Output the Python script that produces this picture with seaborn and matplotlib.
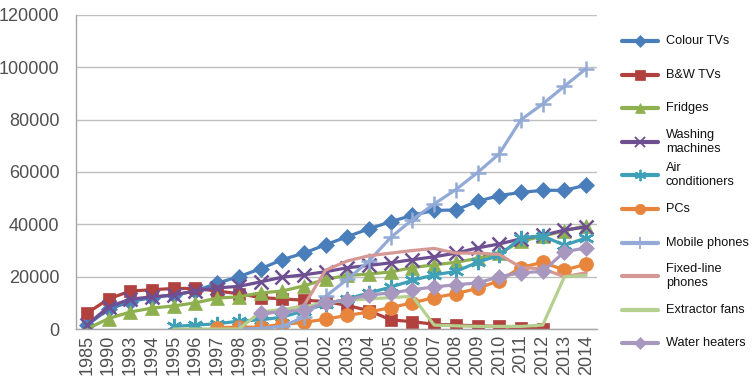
import matplotlib
matplotlib.use('Agg')
import matplotlib.pyplot as plt
from matplotlib.lines import Line2D
import seaborn as sns
import pandas as pd

years = ['1985', '1990', '1993', '1994', '1995', '1996', '1997', '1998', '1999', '2000',
         '2001', '2002', '2003', '2004', '2005', '2006', '2007', '2008', '2009', '2010',
         '2011', '2012', '2013', '2014']

colour_tvs = [1500, 7500, 10500, 12000, 13000, 14500, 17500, 20000, 23000, 26500, 29000, 32200,
              35300, 38300, 41000, 43500, 45300, 45500, 48800, 51000, 52200, 53000, 53000, 55000]
bw_tvs = [6000, 11500, 14500, 15000, 15500, 15500, 14500, 13500, 12000, 11500, 11000, 10500,
          9000, 7000, 3500, 2800, 1800, 1500, 1200, 1000, 300, 0, None, None]
fridges = [0, 4000, 6500, 8000, 8800, 10000, 11800, 12300, 13800, 14500, 16500, 19000,
           20500, 21000, 21800, 23500, 24500, 25500, 27000, 29000, 33500, 35500, 37500, 39500]
washing = [1500, 8500, 11400, 12300, 13000, 14600, 15700, 16300, 18000, 19800, 20700, 21900,
           23400, 24300, 25300, 26500, 27600, 29000, 31000, 32500, 34500, 35800, 37800, 39000]
aircon = [None, None, None, None, 1000, 1500, 2000, 3000, 3500, 4500, 7000, 9500,
          11500, 13800, 16000, 18600, 20700, 22000, 25500, 28200, 34800, 35600, 32000, 34800]
pcs = [None, None, None, None, None, None, 500, 700, 700, 1800, 2500, 3800,
       5200, 6500, 8200, 10000, 12000, 13500, 15500, 18500, 23500, 25500, 22500, 24800]
mobile = [None, None, None, None, None, None, None, 0, 200, 1000, 4500, 12500,
          19000, 26000, 35000, 41800, 47800, 53300, 59800, 67000, 80000, 86000, 92800, 99500]
fixed_line = [None, None, None, None, None, None, None, None, 5500, 7000, 9000, 22500,
              26000, 28000, 29000, 30000, 30800, 29000, 29000, 28500, 23500, 23000, 20000, 21500]
extractor = [None, None, None, None, 0, 0, 0, 0, 6500, 7500, 8500, 10000,
             11000, 11500, 12000, 12500, 1500, 1200, 1000, 1000, 1000, 1500, 20000, 20500]
water = [None, None, None, None, None, None, None, None, 6000, 6500, 7300, 10000,
         11200, 13000, 13800, 15000, 16100, 16900, 17600, 20000, 21500, 22000, 29500, 31000]

labels = ['Colour TVs', 'B&W TVs', 'Fridges', 'Washing\nmachines', 'Air\nconditioners', 'PCs',
          'Mobile phones', 'Fixed-line\nphones', 'Extractor fans', 'Water heaters']
values = [colour_tvs, bw_tvs, fridges, washing, aircon, pcs, mobile, fixed_line, extractor, water]
colors = ['#4A7EBB', '#B0413E', '#8FB04F', '#6E4F92', '#3FA0B8', '#E7853D',
          '#93AAD6', '#D69894', '#B5D08E', '#A898C0']
markers = ['D', 's', '^', 'x', (6, 2, 0), 'o', '+', None, None, 'D']
msizes = [8, 9, 10, 10, 11, 10, 11, 0, 0, 8]

sns.set_style('white')
plt.rcParams['font.family'] = ['Liberation Sans', 'DejaVu Sans']

fig = plt.figure(figsize=(7.54, 3.85), dpi=100)
ax = fig.add_axes([76 / 754, 1 - 329 / 385, (597 - 76) / 754, (329 - 15) / 385])

pos = list(range(len(years)))
for vals, c, m, ms in zip(values, colors, markers, msizes):
    y = pd.Series(vals, dtype=float)
    kw = {}
    if m is not None:
        kw = dict(marker=m, markersize=ms, markeredgecolor=c, markerfacecolor=c,
                  markeredgewidth=1.8 if m in ('x', '+', (6, 2, 0)) else 0.5)
    sns.lineplot(x=pos, y=y, ax=ax, color=c, linewidth=2.3, **kw)

ax.set_ylim(0, 120000)
ax.set_xlim(-0.5, len(years) - 0.5)
ax.set_yticks(range(0, 120001, 20000))
ax.set_yticklabels([str(v) for v in range(0, 120001, 20000)])
ax.set_xticks(pos)
ax.set_xticklabels(years, rotation=90)
ax.set_xticks([p - 0.5 for p in pos] + [len(years) - 0.5], minor=True)
ax.tick_params(axis='x', which='major', length=0, pad=4, labelsize=13, labelcolor='#505050')
ax.tick_params(axis='x', which='minor', length=5, width=1, color='#A6A6A6', direction='out')
ax.tick_params(axis='y', length=4, width=1, color='#A6A6A6', direction='out', pad=8,
               labelsize=13, labelcolor='#505050')
ax.grid(axis='y', color='#BFBFBF', linewidth=1)
ax.grid(axis='x', visible=False)
for s in ['top', 'right']:
    ax.spines[s].set_visible(False)
for s in ['left', 'bottom']:
    ax.spines[s].set_color('#A6A6A6')
    ax.spines[s].set_linewidth(1)
ax.set_xlabel('')
ax.set_ylabel('')

# legend drawn by hand so every entry sits on an even step
for i, (lab, c, m, ms) in enumerate(zip(labels, colors, markers, msizes)):
    yf = 1 - (41 + i * 33.6) / 385
    fig.add_artist(Line2D([622 / 754, 658 / 754], [yf, yf], color=c, linewidth=3,
                          transform=fig.transFigure))
    if m is not None:
        fig.add_artist(Line2D([640 / 754], [yf], color=c, marker=m, markersize=ms * 0.75,
                              markeredgecolor=c, markerfacecolor=c,
                              markeredgewidth=1.3 if m in ('x', '+', (6, 2, 0)) else 0.5,
                              transform=fig.transFigure))
    fig.text(666 / 754, yf, lab, fontsize=9.2, color='#111111',
             va='center', ha='left', linespacing=1.2)

fig.savefig('out.png', dpi=100)
